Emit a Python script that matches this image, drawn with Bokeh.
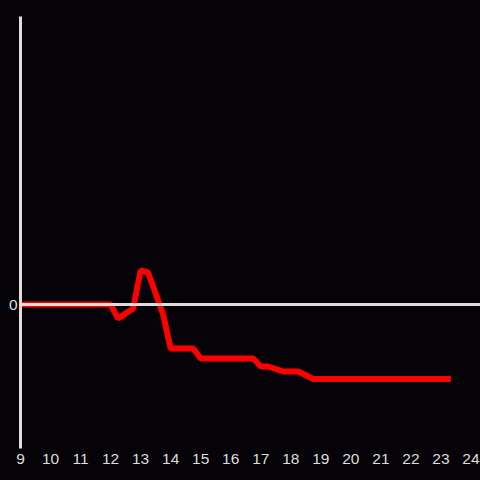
from bokeh.plotting import figure
from bokeh.models import Span, FixedTicker, Range1d
from bokeh.embed import file_html
from bokeh.resources import INLINE

# data
hours = [9.0, 12.0, 12.25, 12.75, 13.0, 13.25, 13.75, 14.0, 14.75, 15.0,
         16.75, 17.0, 17.25, 17.75, 18.25, 18.75, 23.33]
values = [0.0, 0.0, -1.4, -0.4, 3.4, 3.2, -1.0, -4.4, -4.4, -5.4,
          -5.4, -6.2, -6.2, -6.7, -6.7, -7.45, -7.45]
x_ticks = list(range(9, 25))
y_ticks = [0]

BG = "#050308"
FG = "#dddddd"

p = figure(width=480, height=480, output_backend="svg", toolbar_location=None,
           x_range=Range1d(9, 9 + 459.5 / 30), y_range=Range1d(-14.4, 28.8),
           min_border_left=20, min_border_right=0, min_border_top=16,
           min_border_bottom=32)
p.styles = {"background-color": BG}
p.background_fill_color = BG
p.border_fill_color = BG
p.outline_line_color = None
p.xgrid.visible = False
p.ygrid.visible = False

p.xaxis.ticker = FixedTicker(ticks=x_ticks)
p.xaxis.axis_line_color = None
p.xaxis.major_tick_line_color = None
p.xaxis.minor_tick_line_color = None
p.xaxis.major_tick_out = 0
p.xaxis.major_tick_in = 0
p.xaxis.major_label_standoff = 5
p.xaxis.major_label_text_color = FG
p.xaxis.major_label_text_font = "Liberation Sans"
p.xaxis.major_label_text_font_size = "15.5px"

p.yaxis.ticker = FixedTicker(ticks=y_ticks)
p.yaxis.axis_line_color = FG
p.yaxis.axis_line_width = 3
p.yaxis.major_tick_line_color = None
p.yaxis.minor_tick_line_color = None
p.yaxis.major_tick_out = 0
p.yaxis.major_tick_in = 0
p.yaxis.major_label_standoff = 3
p.yaxis.major_label_text_color = FG
p.yaxis.major_label_text_font = "Liberation Sans"
p.yaxis.major_label_text_font_size = "15.5px"

p.add_layout(Span(location=0, dimension="width", line_color=FG, line_width=3))

p.line(hours, values, line_color="#ff0000", line_width=6)

open("out.html", "w").write(file_html(p, INLINE))
